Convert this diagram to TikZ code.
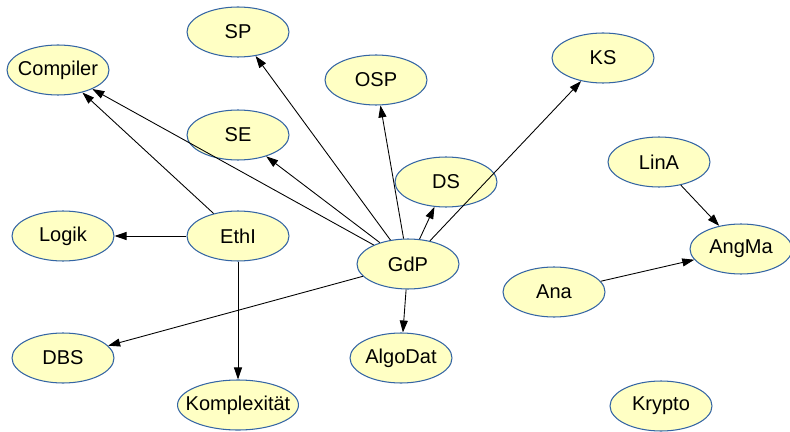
\documentclass[tikz,border=0pt]{standalone}
\usepackage{fontspec}
\setmainfont{Liberation Sans}
\usepackage{xcolor}
\definecolor{CourseFill}{HTML}{FFFFC4}
\definecolor{CourseLine}{HTML}{3465A4}
\usetikzlibrary{arrows.meta, shapes.geometric}

\begin{document}
\begin{tikzpicture}[
  x=0.02cm, y=-0.02cm,
  course/.style={ellipse, draw=CourseLine, fill=CourseFill, line width=0.6pt,
    minimum width=2.04cm, minimum height=1cm, inner sep=0pt,
    font=\fontsize{11.4}{13}\selectfont,
    execute at begin node=\hbox to 0pt\bgroup\hss,
    execute at end node=\hss\egroup},
  dep/.style={-{Triangle[length=2.4mm, width=1.6mm]}, line width=0.5pt}
]
\useasboundingbox (0,0) rectangle (790,432);
\node[course] (compiler) at (58,70) {Compiler};
\node[course] (sp) at (238,32) {SP};
\node[course] (osp) at (376,80) {OSP};
\node[course] (ks) at (603,58) {KS};
\node[course] (se) at (238,135) {SE};
\node[course] (ds) at (446,182) {DS};
\node[course] (lina) at (659,162) {LinA};
\node[course] (logik) at (63,236) {Logik};
\node[course] (ethi) at (238,236) {EthI};
\node[course] (gdp) at (408,264) {GdP};
\node[course] (angma) at (741,249) {AngMa};
\node[course] (ana) at (554,292) {Ana};
\node[course] (dbs) at (63,358) {DBS};
\node[course] (algodat) at (401,358) {AlgoDat};
\node[course, minimum width=2.42cm] (komplex) at (238,405) {Komplexität};
\node[course] (krypto) at (661,406) {Krypto};

\draw[dep] (ethi) -- (compiler);
\draw[dep] (ethi) -- (logik);
\draw[dep] (ethi) -- (komplex);
\draw[dep] (gdp) -- (compiler);
\draw[dep] (gdp) -- (sp);
\draw[dep] (gdp) -- (se);
\draw[dep] (gdp) -- (osp);
\draw[dep] (gdp) -- (ds);
\draw[dep] (gdp) -- (ks);
\draw[dep] (gdp) -- (dbs);
\draw[dep] (gdp) -- (algodat);
\draw[dep] (lina) -- (angma);
\draw[dep] (ana) -- (angma);
\end{tikzpicture}
\end{document}
